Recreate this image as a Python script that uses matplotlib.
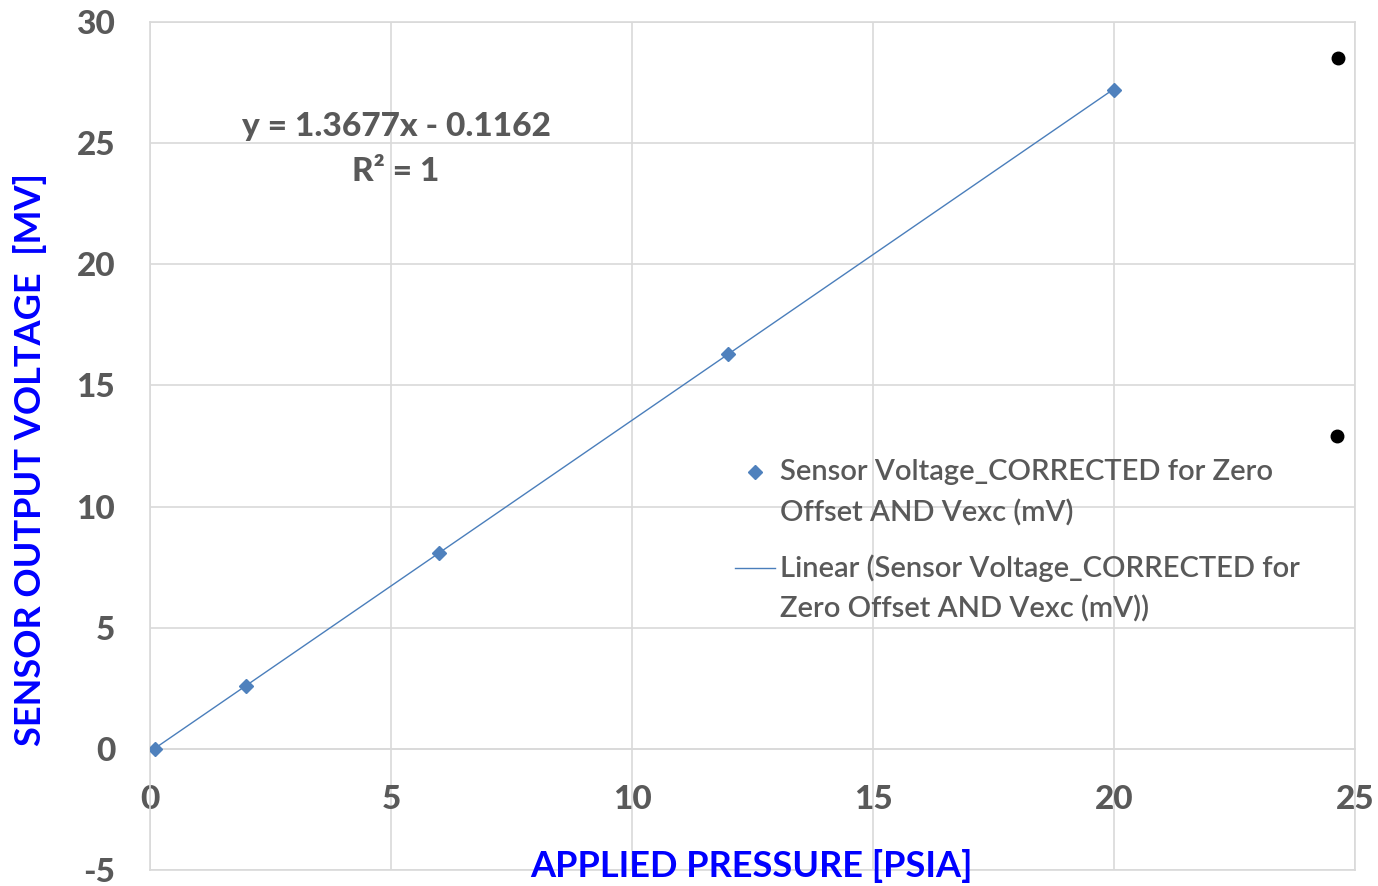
import matplotlib
matplotlib.use('Agg')
import matplotlib.pyplot as plt

# ---- data ----
pressure = [0.1, 2, 6, 12, 20]
voltage = [0.0, 2.6, 8.1, 16.3, 27.2]
slope = 1.3677
intercept = -0.1162
stray_x = [24.65, 24.62]
stray_y = [28.5, 12.9]
xticks = [0, 5, 10, 15, 20, 25]
yticks = [-5, 0, 5, 10, 15, 20, 25, 30]
eq_text = "y = 1.3677x - 0.1162"
r2_text = "R² = 1"
leg1 = ["Sensor Voltage_CORRECTED for Zero", "Offset AND Vexc (mV)"]
leg2 = ["Linear (Sensor Voltage_CORRECTED for", "Zero Offset AND Vexc (mV))"]

FONT = ['Lato', 'DejaVu Sans']
plt.rcParams['font.family'] = FONT
plt.rcParams['axes.unicode_minus'] = False
GREY = '#595959'
GRID = '#D9D9D9'

W, H = 1378, 886
fig = plt.figure(figsize=(W / 100, H / 100), dpi=100)
ax = fig.add_axes([150 / W, 16 / H, 1205 / W, 848 / H])
ax.set_xlim(0, 25)
ax.set_ylim(-5, 30)

ax.set_xticks(xticks)
ax.set_yticks(yticks)
ax.grid(True, color=GRID, linewidth=1.2)
ax.set_axisbelow(True)
for s in ['left', 'right', 'top']:
    ax.spines[s].set_color(GRID)
    ax.spines[s].set_linewidth(1.2)
ax.spines['bottom'].set_position(('data', 0))
ax.spines['bottom'].set_color(GRID)
ax.spines['bottom'].set_linewidth(1.2)
ax.axhline(-5, color=GRID, linewidth=1.2, clip_on=False)

ax.tick_params(axis='both', length=0, labelsize=24, labelcolor=GREY)
ax.tick_params(axis='x', pad=26)
ax.tick_params(axis='y', pad=25)
for lab in ax.get_xticklabels() + ax.get_yticklabels():
    lab.set_fontweight(900)

# trendline
x0, x1 = min(pressure), max(pressure)
ax.plot([x0, x1], [slope * x0 + intercept, slope * x1 + intercept],
        color='#4A7EBB', linewidth=1.0, zorder=3)
# data points
ax.plot(pressure, voltage, linestyle='none', marker='D', markersize=7,
        color='#4F81BD', zorder=4)
# stray points
ax.plot(stray_x, stray_y, linestyle='none', marker='o', markersize=9,
        color='black', zorder=4, clip_on=False)

def fx(px):
    return (px - 150) / 1205

def fy(py):
    return (870 - py) / 848

# equation
ax.text(fx(396), fy(126), eq_text, transform=ax.transAxes, ha='center', va='center',
        fontsize=24, fontweight=900, color=GREY)
ax.text(fx(396), fy(171), r2_text, transform=ax.transAxes, ha='center', va='center',
        fontsize=24, fontweight=900, color=GREY)

# legend (manual)
ax.plot([fx(755)], [fy(472)], transform=ax.transAxes, marker='D', markersize=7,
        color='#4F81BD', linestyle='none', clip_on=False)
ax.plot([fx(735), fx(775)], [fy(568), fy(568)], transform=ax.transAxes,
        color='#4A7EBB', linewidth=1.0, clip_on=False)
for txt, py in zip(leg1 + leg2, [472, 513, 568, 609]):
    ax.text(fx(780), fy(py), txt, transform=ax.transAxes, ha='left', va='center',
            fontsize=21, fontweight='semibold', color=GREY)

# axis titles
fig.text(751 / W, 1 - 866 / H, "APPLIED PRESSURE [PSIA]", ha='center', va='center',
         fontsize=26, fontweight='bold', color='#0000FF')
fig.text(30 / W, 1 - 460 / H, "SENSOR OUTPUT VOLTAGE  [MV]", ha='center', va='center',
         rotation=90, fontsize=26, fontweight='bold', color='#0000FF')

fig.savefig('out.png', dpi=100)
